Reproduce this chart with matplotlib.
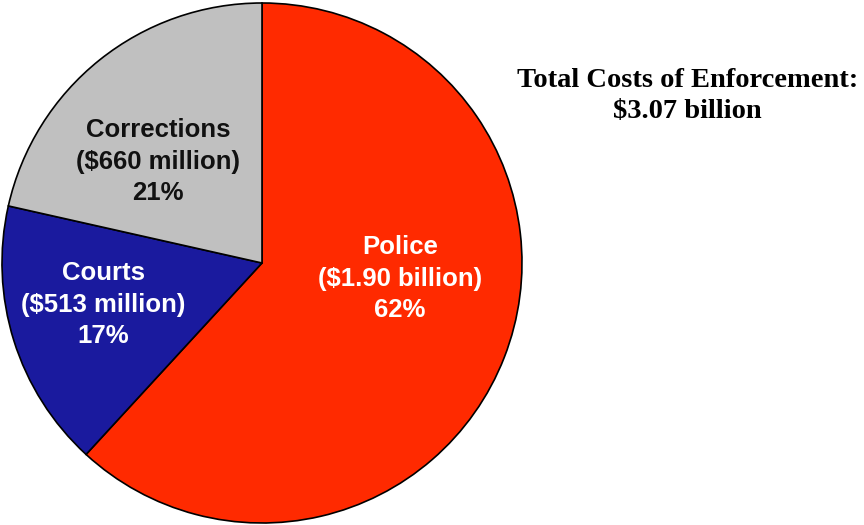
import matplotlib.pyplot as plt

# enforcement spending, millions of dollars
categories = ["Police", "Courts", "Corrections"]
costs = [1900, 513, 660]
cost_labels = ["$1.90 billion", "$513 million", "$660 million"]
colors = ["#ff2a00", "#1a1a9e", "#c0c0c0"]
text_colors = ["white", "white", "#111111"]
label_pos = [(0.53, -0.06), (-0.61, -0.16), (-0.40, 0.39)]


def main():
    fig = plt.figure(figsize=(8.64, 5.25), dpi=100)
    W, H = 864, 525
    cx, cy, r = 262, 263, 260
    ax = fig.add_axes([(cx - r) / W, (H - cy - r) / H, 2 * r / W, 2 * r / H])

    ax.pie(costs, colors=colors, startangle=90, counterclock=False,
           wedgeprops=dict(edgecolor="black", linewidth=1.2))
    ax.set_xlim(-1, 1)
    ax.set_ylim(-1, 1)

    total = sum(costs)
    for name, val, lab, tc, (x, y) in zip(categories, costs, cost_labels, text_colors, label_pos):
        pct = round(val / total * 100)
        ax.text(x, y, f"{name}\n({lab})\n{pct}%", ha="center", va="center",
                color=tc, fontsize=18.5, fontweight="bold", family="Liberation Sans",
                linespacing=1.38)

    fig.text(0.796, 0.817, f"Total Costs of Enforcement:\n${total / 1000:.2f} billion",
             ha="center", va="center", fontsize=20.5, fontweight="bold",
             family="Liberation Serif", linespacing=1.3)

    fig.savefig("out.png", dpi=100)


if __name__ == "__main__":
    main()
